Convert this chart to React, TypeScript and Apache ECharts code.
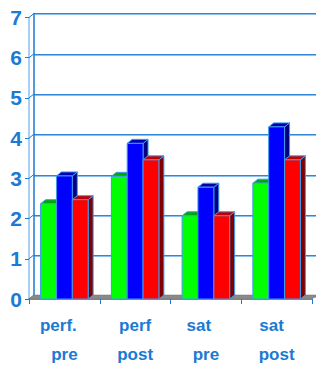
import React, { useEffect, useRef } from "react";
import * as echarts from "echarts";

const categories = ["perf.\npre", "perf\npost", "sat\npre", "sat\npost"];
const labelShift = [12, 0, 14, 10];
const greenValues = [2.37, 3.05, 2.07, 2.88];
const blueValues = [3.06, 3.87, 2.78, 4.28];
const redValues = [2.47, 3.46, 2.07, 3.46];
const yTicks = [0, 1, 2, 3, 4, 5, 6, 7];

const AXIS = "#1a7ad4";
const DX = 5;
const DY = -4;

function barSeries(name: string, values: number[], idx: number, front: string, top: string, side: string) {
  return {
    name,
    type: "custom",
    xAxisIndex: 0,
    yAxisIndex: 0,
    z: 10,
    data: values.map((v, i) => [i, v]),
    renderItem: (params: any, api: any) => {
      const ci = api.value(0);
      const v = api.value(1);
      const band = api.size([1, 0])[0];
      const bw = band * 0.224;
      const c = api.coord([ci, v]);
      const b = api.coord([ci, 0]);
      const x0 = c[0] - 1.5 * bw + idx * bw;
      const x1 = x0 + bw;
      const yt = c[1];
      const yb = b[1];
      const stroke = { stroke: "#3d9bef", lineWidth: 1 };
      return {
        type: "group",
        children: [
          {
            type: "polygon",
            shape: { points: [[x1, yt], [x1 + DX, yt + DY], [x1 + DX, yb + DY], [x1, yb]] },
            style: { fill: side, ...stroke },
          },
          {
            type: "polygon",
            shape: { points: [[x0, yt], [x0 + DX, yt + DY], [x1 + DX, yt + DY], [x1, yt]] },
            style: { fill: top, ...stroke },
          },
          {
            type: "rect",
            shape: { x: x0, y: yt, width: bw, height: yb - yt },
            style: { fill: front, ...stroke },
          },
        ],
      };
    },
  };
}

export default function App() {
  const ref = useRef<HTMLDivElement>(null);
  useEffect(() => {
    const chart = echarts.init(ref.current!, null, { renderer: "svg" });
    const rich: any = {};
    labelShift.forEach((s, i) => {
      rich["a" + i] = { padding: [0, s, 0, 0], align: "center" };
    });
    const backAxis = (gi: number, color: string, showLine: boolean) => ({
      type: "value",
      gridIndex: gi,
      min: 0,
      max: 7,
      interval: 1,
      axisLabel: { show: false },
      axisTick: { show: false },
      axisLine: { show: showLine, lineStyle: { color: AXIS, width: 1.5 } },
      splitLine: { show: true, lineStyle: { color, width: 1 } },
    });
    const option: any = {
      animation: false,
      backgroundColor: "#ffffff",
      grid: [
        { left: 29, right: 4, top: 17.5, bottom: 69 },
        { left: 29 + DX, right: 4 - DX, top: 17.5 + DY + 1, bottom: 69 - DY - 1 },
        { left: 29 + DX, right: 4 - DX, top: 17.5 + DY, bottom: 69 - DY },
      ],
      xAxis: [
        {
          type: "category",
          gridIndex: 0,
          data: categories,
          axisLine: { show: true, lineStyle: { color: AXIS, width: 1.5 } },
          axisTick: { show: true, length: 5, lineStyle: { color: AXIS } },
          axisLabel: {
            interval: 0,
            hideOverlap: false,
            color: AXIS,
            fontSize: 17,
            fontWeight: "bold",
            fontFamily: "Liberation Sans, Arial, sans-serif",
            lineHeight: 29,
            margin: 12,
            formatter: (val: string, i: number) => {
              const parts = val.split("\n");
              return "{a" + i + "|" + parts[0] + "}\n" + parts[1];
            },
            rich,
          },
        },
        { type: "category", gridIndex: 1, data: categories, show: false },
        { type: "category", gridIndex: 2, data: categories, show: false },
      ],
      yAxis: [
        {
          type: "value",
          gridIndex: 0,
          min: 0,
          max: 7,
          interval: 1,
          splitLine: { show: false },
          axisLine: { show: true, lineStyle: { color: "#8cc0ee", width: 1.5 } },
          axisTick: { show: true, length: 4, lineStyle: { color: AXIS } },
          axisLabel: {
            color: AXIS,
            fontSize: 21,
            fontWeight: "bold",
            fontFamily: "Liberation Sans, Arial, sans-serif",
            margin: 7,
            formatter: (v: number) => (yTicks.includes(v) ? String(v) : ""),
          },
        },
        backAxis(1, "#8cc0ee", false),
        backAxis(2, "#2f86d6", true),
      ],
      series: [
        {
          type: "custom",
          xAxisIndex: 0,
          yAxisIndex: 0,
          z: 2,
          silent: true,
          data: yTicks.map((v) => [0, v]),
          renderItem: (params: any, api: any) => {
            const cs = params.coordSys;
            const y = api.coord([0, api.value(1)])[1];
            return {
              type: "line",
              shape: { x1: cs.x, y1: y, x2: cs.x + DX, y2: y + DY },
              style: { stroke: AXIS, lineWidth: 1 },
            };
          },
        },
        {
          type: "custom",
          xAxisIndex: 0,
          yAxisIndex: 0,
          z: 3,
          silent: true,
          data: [[0, 0]],
          renderItem: (params: any, api: any) => {
            const cs = params.coordSys;
            const y = api.coord([0, 0])[1];
            const xa = cs.x;
            const xb = cs.x + cs.width;
            return {
              type: "polygon",
              shape: { points: [[xa, y], [xb, y], [xb + DX, y + DY], [xa + DX, y + DY]] },
              style: { fill: "#8a8a8a", stroke: "#6f6f6f", lineWidth: 0.5 },
            };
          },
        },
        barSeries("green", greenValues, 0, "#00ff00", "#00a800", "#006000"),
        barSeries("blue", blueValues, 1, "#0000ff", "#0000b0", "#000080"),
        barSeries("red", redValues, 2, "#ff0000", "#c00000", "#800000"),
      ],
    };
    chart.setOption(option);
    return () => chart.dispose();
  }, []);
  return <div ref={ref} style={{ width: 316, height: 369, position: "absolute", left: 0, top: 0 }} />;
}
